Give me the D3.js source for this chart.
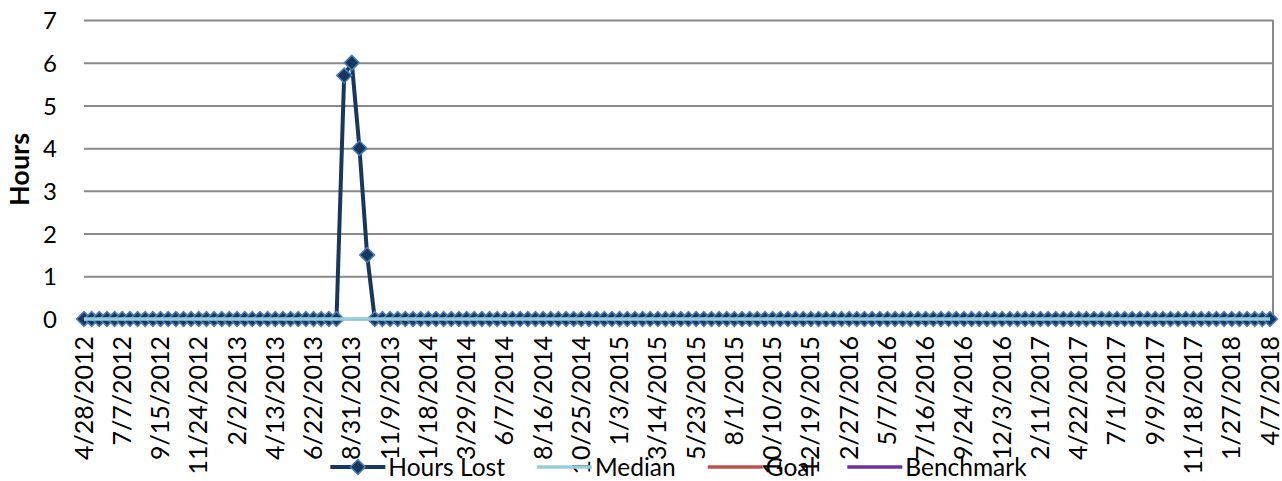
<!DOCTYPE html>
<html>
<head>
<meta charset="utf-8">
<script src="https://cdn.jsdelivr.net/npm/d3@7"></script>
<style>
  body { margin: 0; background: #fff; }
  text { font-family: Lato, "Open Sans", sans-serif; fill: #000; }
</style>
</head>
<body>
<svg id="chart"></svg>
<script>
// biweekly samples, first one on 4/28/2012
const startDate = '4/28/2012';
const pointCount = 156;

const hoursLost = [
  0, 0, 0, 0, 0, 0, 0, 0, 0, 0,
  0, 0, 0, 0, 0, 0, 0, 0, 0, 0,
  0, 0, 0, 0, 0, 0, 0, 0, 0, 0,
  0, 0, 0, 0, 5.7, 6, 4, 1.5, 0, 0,
  0, 0, 0, 0, 0, 0, 0, 0, 0, 0,
  0, 0, 0, 0, 0, 0, 0, 0, 0, 0,
  0, 0, 0, 0, 0, 0, 0, 0, 0, 0,
  0, 0, 0, 0, 0, 0, 0, 0, 0, 0,
  0, 0, 0, 0, 0, 0, 0, 0, 0, 0,
  0, 0, 0, 0, 0, 0, 0, 0, 0, 0,
  0, 0, 0, 0, 0, 0, 0, 0, 0, 0,
  0, 0, 0, 0, 0, 0, 0, 0, 0, 0,
  0, 0, 0, 0, 0, 0, 0, 0, 0, 0,
  0, 0, 0, 0, 0, 0, 0, 0, 0, 0,
  0, 0, 0, 0, 0, 0, 0, 0, 0, 0,
  0, 0, 0, 0, 0, 0
];

const median = [
  0, 0, 0, 0, 0, 0, 0, 0, 0, 0,
  0, 0, 0, 0, 0, 0, 0, 0, 0, 0,
  0, 0, 0, 0, 0, 0, 0, 0, 0, 0,
  0, 0, 0, 0, 0, 0, 0, 0, 0, 0,
  0, 0, 0, 0, 0, 0, 0, 0, 0, 0,
  0, 0, 0, 0, 0, 0, 0, 0, 0, 0,
  0, 0, 0, 0, 0, 0, 0, 0, 0, 0,
  0, 0, 0, 0, 0, 0, 0, 0, 0, 0,
  0, 0, 0, 0, 0, 0, 0, 0, 0, 0,
  0, 0, 0, 0, 0, 0, 0, 0, 0, 0,
  0, 0, 0, 0, 0, 0, 0, 0, 0, 0,
  0, 0, 0, 0, 0, 0, 0, 0, 0, 0,
  0, 0, 0, 0, 0, 0, 0, 0, 0, 0,
  0, 0, 0, 0, 0, 0, 0, 0, 0, 0,
  0, 0, 0, 0, 0, 0, 0, 0, 0, 0,
  0, 0, 0, 0, 0, 0
];

// no points plotted for these, they only show in the legend
const goal = [];
const benchmark = [];

const tickLabels = [
  '4/28/2012', '7/7/2012', '9/15/2012', '11/24/2012', '2/2/2013', '4/13/2013',
  '6/22/2013', '8/31/2013', '11/9/2013', '1/18/2014', '3/29/2014', '6/7/2014',
  '8/16/2014', '10/25/2014', '1/3/2015', '3/14/2015', '5/23/2015', '8/1/2015',
  '10/10/2015', '12/19/2015', '2/27/2016', '5/7/2016', '7/16/2016', '9/24/2016',
  '12/3/2016', '2/11/2017', '4/22/2017', '7/1/2017', '9/9/2017', '11/18/2017',
  '1/27/2018', '4/7/2018'
];
const yTicks = [0, 1, 2, 3, 4, 5, 6, 7];

const seriesNames = ['Hours Lost', 'Median', 'Goal', 'Benchmark'];
const seriesColors = ['#17375E', '#93CDDD', '#C0504D', '#7030A0'];

const svgWidth = 1282, svgHeight = 481;
const margin = { top: 20, right: 9, bottom: 162, left: 84 };
const width = svgWidth - margin.left - margin.right;
const height = svgHeight - margin.top - margin.bottom;

const parseDate = d3.utcParse('%m/%d/%Y');
const start = parseDate(startDate);
const dates = d3.range(pointCount).map(i => d3.utcDay.offset(start, 14 * i));
const tickDates = tickLabels.map(parseDate);

const svg = d3.select('#chart')
  .attr('width', svgWidth)
  .attr('height', svgHeight);

const g = svg.append('g')
  .attr('transform', 'translate(' + margin.left + ',' + margin.top + ')');

const x = d3.scaleUtc()
  .domain(d3.extent(dates))
  .range([0, width - 3]);

const y = d3.scaleLinear()
  .domain([0, 7])
  .range([height, 0]);

// gridlines
const grid = g.append('g')
  .call(d3.axisLeft(y).tickValues(yTicks).tickSize(-width).tickFormat(''));
grid.select('.domain').remove();
grid.selectAll('line').attr('stroke', '#898989').attr('stroke-width', 2);

g.append('line')
  .attr('x1', width).attr('x2', width)
  .attr('y1', y(7)).attr('y2', y(0))
  .attr('stroke', '#898989').attr('stroke-width', 2);

// y labels
const yAxis = g.append('g')
  .call(d3.axisLeft(y).tickValues(yTicks).tickSize(0).tickPadding(27)
    .tickFormat(d3.format('d')));
yAxis.select('.domain').remove();
yAxis.selectAll('text').style('font-size', '24px').attr('dy', '0.36em');

// x labels
const xAxis = g.append('g')
  .attr('transform', 'translate(0,' + height + ')')
  .call(d3.axisBottom(x).tickValues(tickDates).tickSize(0)
    .tickFormat((d, i) => tickLabels[i]));
xAxis.select('.domain').remove();
xAxis.selectAll('text')
  .style('font-size', '25px')
  .style('text-anchor', 'end')
  .attr('transform', 'rotate(-90)')
  .attr('x', -17)
  .attr('y', 0)
  .attr('dy', '0.32em');

svg.append('text')
  .attr('transform', 'translate(19,' + (margin.top + height / 2) + ') rotate(-90)')
  .attr('text-anchor', 'middle')
  .attr('dy', '0.36em')
  .style('font-size', '27px')
  .style('font-weight', 'bold')
  .text('Hours');

const line = d3.line()
  .x((d, i) => x(dates[i]))
  .y(d => y(d));

const diamond = d3.symbol(d3.symbolSquare, 110);

// Hours Lost
g.append('path')
  .datum(hoursLost)
  .attr('fill', 'none')
  .attr('stroke', seriesColors[0])
  .attr('stroke-width', 4)
  .attr('stroke-linejoin', 'round')
  .attr('d', line);

g.append('g').selectAll('path')
  .data(hoursLost)
  .join('path')
  .attr('d', diamond)
  .attr('transform', (d, i) => 'translate(' + x(dates[i]) + ',' + y(d) + ') rotate(45)')
  .attr('fill', seriesColors[0])
  .attr('stroke', '#4A7EBB')
  .attr('stroke-width', 1.5);

// Median, Goal, Benchmark
[median, goal, benchmark].forEach((s, k) => {
  if (!s.length) return;
  g.append('path')
    .datum(s)
    .attr('fill', 'none')
    .attr('stroke', seriesColors[k + 1])
    .attr('stroke-width', 3.3)
    .attr('d', line);
});

// legend, centred under the plot
const legend = svg.append('g');
let lx = 0;
seriesNames.forEach((name, i) => {
  const item = legend.append('g').attr('transform', 'translate(' + lx + ',0)');
  item.append('line')
    .attr('x1', 0).attr('x2', 55)
    .attr('stroke', seriesColors[i])
    .attr('stroke-width', i === 0 ? 4 : 3.3);
  if (i === 0) {
    item.append('path')
      .attr('d', diamond)
      .attr('transform', 'translate(27.5,0) rotate(45)')
      .attr('fill', seriesColors[0])
      .attr('stroke', '#4A7EBB')
      .attr('stroke-width', 1.5);
  }
  const t = item.append('text')
    .attr('x', 58)
    .attr('dy', '0.36em')
    .style('font-size', '24.5px')
    .text(name);
  lx += 58 + t.node().getComputedTextLength() + 32;
});
lx -= 32;
legend.attr('transform', 'translate(' + (margin.left + width / 2 - lx / 2) + ',467)');
</script>
</body>
</html>
